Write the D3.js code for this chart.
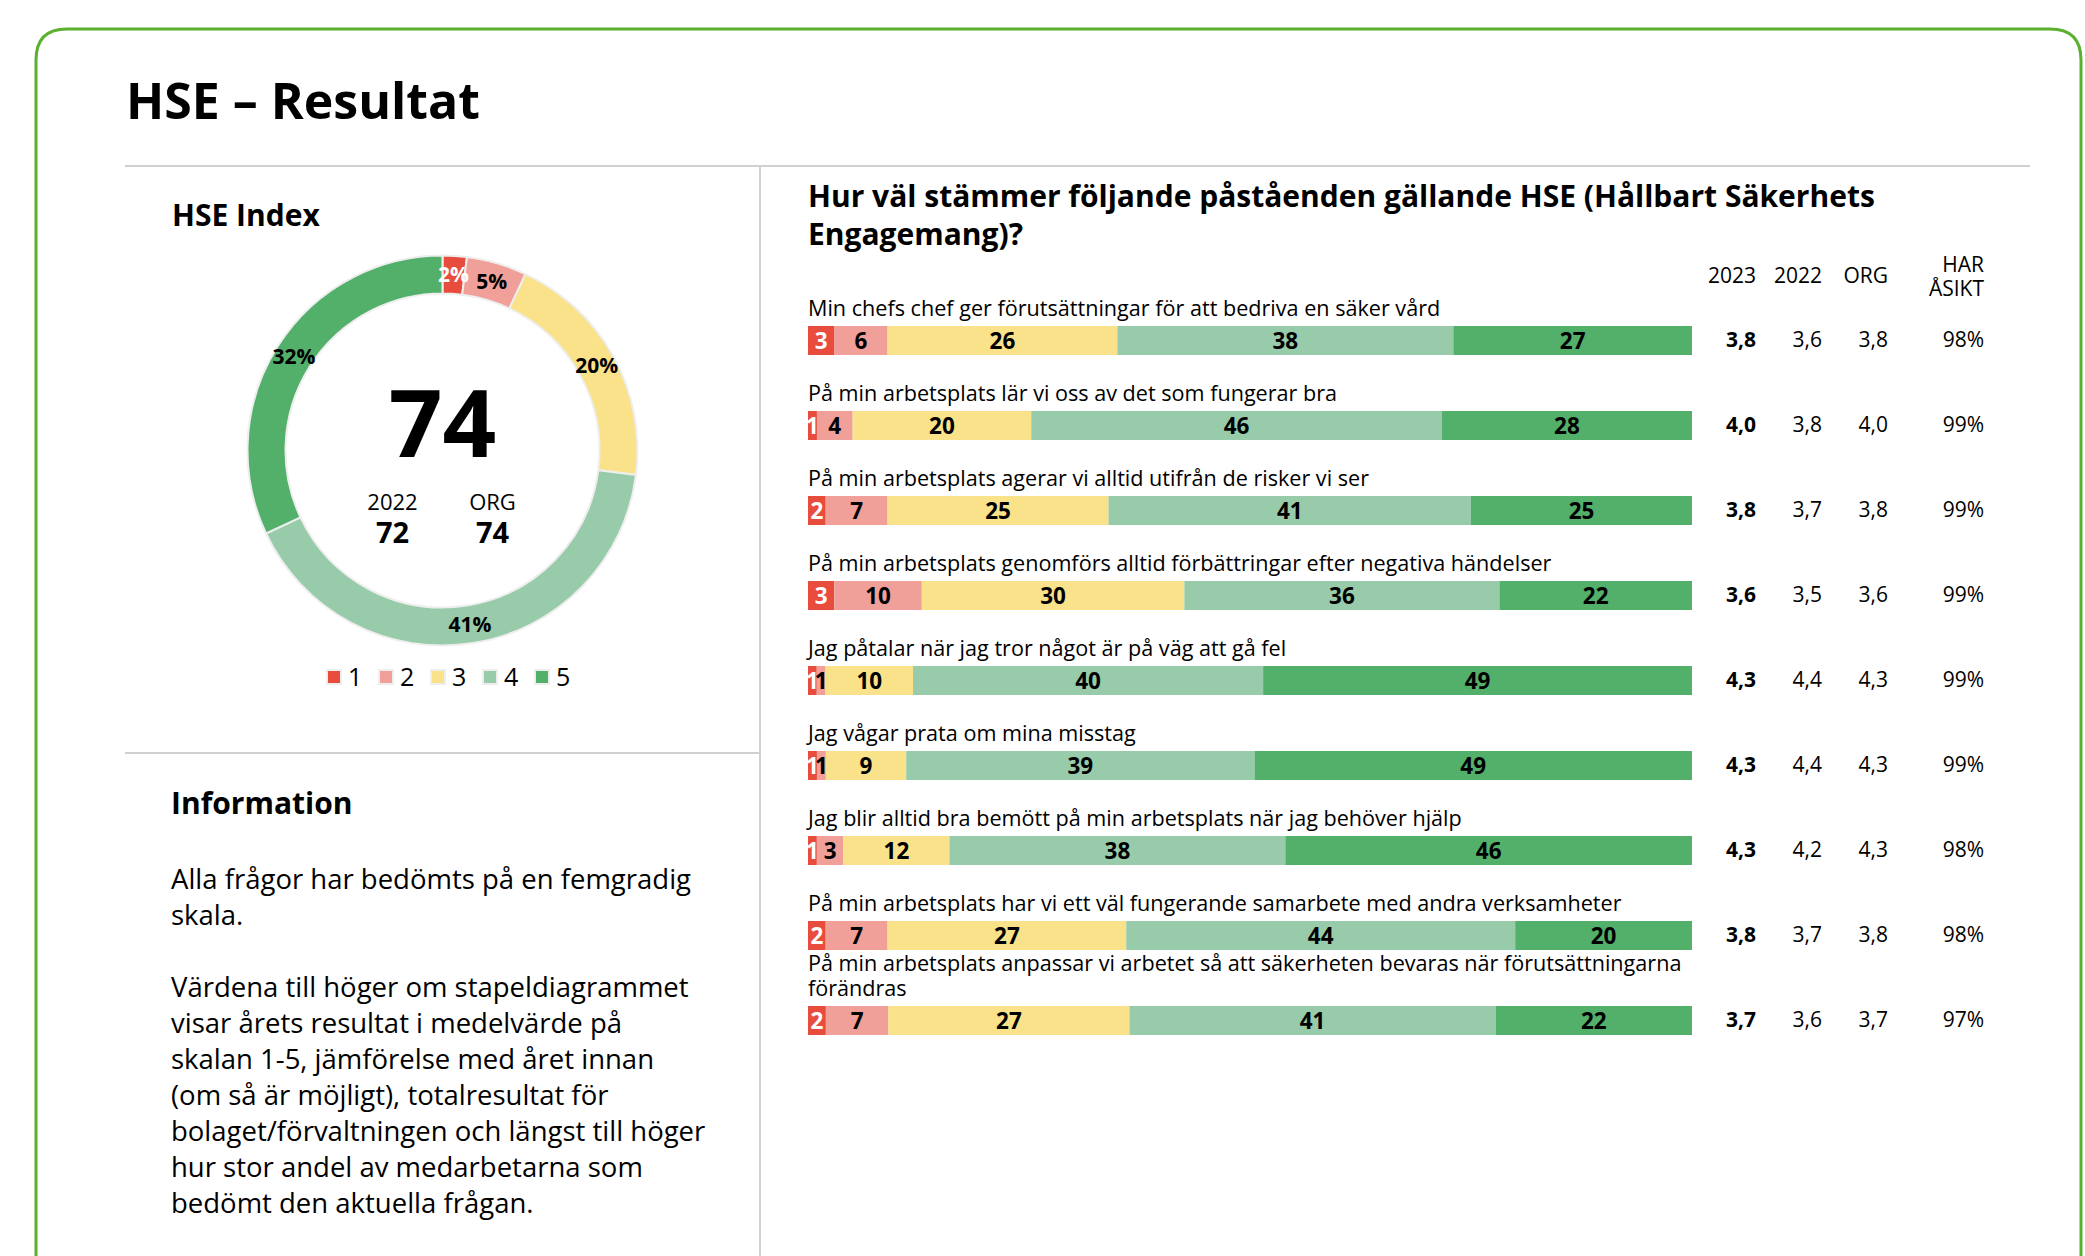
<!DOCTYPE html>
<html>
<head>
<meta charset="utf-8">
<script src="https://cdn.jsdelivr.net/npm/d3@7"></script>
<style>
  body { margin: 0; background: #fff; }
  svg text { font-family: "Open Sans", sans-serif; fill: #000; }
</style>
</head>
<body>
<div id="svgcontainer"></div>
<script>
// ---------- data ----------
const donut_labels = ['1', '2', '3', '4', '5']
const donut_values = [2, 5, 20, 41, 32]   // % per answer
const index_now = 74, index_prev = 72, index_org = 74

const questions = [
    'Min chefs chef ger förutsättningar för att bedriva en säker vård',
    'På min arbetsplats lär vi oss av det som fungerar bra',
    'På min arbetsplats agerar vi alltid utifrån de risker vi ser',
    'På min arbetsplats genomförs alltid förbättringar efter negativa händelser',
    'Jag påtalar när jag tror något är på väg att gå fel',
    'Jag vågar prata om mina misstag',
    'Jag blir alltid bra bemött på min arbetsplats när jag behöver hjälp',
    'På min arbetsplats har vi ett väl fungerande samarbete med andra verksamheter',
    'På min arbetsplats anpassar vi arbetet så att säkerheten bevaras när förutsättningarna förändras'
]
const ans1 = [3, 1, 2, 3, 1, 1, 1, 2, 2]
const ans2 = [6, 4, 7, 10, 1, 1, 3, 7, 7]
const ans3 = [26, 20, 25, 30, 10, 9, 12, 27, 27]
const ans4 = [38, 46, 41, 36, 40, 39, 38, 44, 41]
const ans5 = [27, 28, 25, 22, 49, 49, 46, 20, 22]

const mean_2023 = [3.8, 4.0, 3.8, 3.6, 4.3, 4.3, 4.3, 3.8, 3.7]
const mean_2022 = [3.6, 3.8, 3.7, 3.5, 4.4, 4.4, 4.2, 3.7, 3.6]
const mean_org  = [3.8, 4.0, 3.8, 3.6, 4.3, 4.3, 4.3, 3.8, 3.7]
const har_asikt = [98, 99, 99, 99, 99, 99, 98, 98, 97]

const col_headers = ['2023', '2022', 'ORG']

const info_lines = [
    'Alla frågor har bedömts på en femgradig',
    'skala.',
    '',
    'Värdena till höger om stapeldiagrammet',
    'visar årets resultat i medelvärde på',
    'skalan 1-5, jämförelse med året innan',
    '(om så är möjligt), totalresultat för',
    'bolaget/förvaltningen och längst till höger',
    'hur stor andel av medarbetarna som',
    'bedömt den aktuella frågan.'
]

const colors = ['#e84c3d', '#f0a098', '#fae28a', '#98cba9', '#52b06b']

// ---------- svg ----------
const svg_width = 2085, svg_height = 1256

const svg = d3.select('#svgcontainer')
    .append('svg')
    .attr('width', svg_width)
    .attr('height', svg_height)

const sv = d3.formatLocale({ decimal: ',', thousands: ' ', grouping: [3], currency: ['', ''] })
const fmt1 = sv.format('.1f')

// card frame (open at the bottom)
const r = 31
svg.append('path')
    .attr('d', `M36,${svg_height + 10} L36,${29 + r} Q36,29 ${36 + r},29 L${2081 - r},29 Q2081,29 2081,${29 + r} L2081,${svg_height + 10}`)
    .attr('fill', 'none')
    .attr('stroke', '#5cb030')
    .attr('stroke-width', 3)

svg.append('text')
    .attr('x', 126).attr('y', 119)
    .attr('font-size', 50).attr('font-weight', 700)
    .text('HSE – Resultat')

// dividers
svg.append('line').attr('x1', 125).attr('x2', 2030).attr('y1', 166).attr('y2', 166)
    .attr('stroke', '#d0d0d0').attr('stroke-width', 2)
svg.append('line').attr('x1', 760).attr('x2', 760).attr('y1', 166).attr('y2', svg_height)
    .attr('stroke', '#d0d0d0').attr('stroke-width', 2)
svg.append('line').attr('x1', 125).attr('x2', 760).attr('y1', 753).attr('y2', 753)
    .attr('stroke', '#d0d0d0').attr('stroke-width', 2)

/**------------------------------------------------------------------------
 *                           HSE Index donut
 *------------------------------------------------------------------------**/
svg.append('text')
    .attr('x', 172).attr('y', 226)
    .attr('font-size', 30).attr('font-weight', 700)
    .text('HSE Index')

const cx = 442.5, cy = 450.5
const pie = d3.pie().sort(null).value(d => d)
const arc = d3.arc().innerRadius(157).outerRadius(195)
const label_arc = d3.arc().innerRadius(176).outerRadius(176)

const dg = svg.append('g').attr('transform', `translate(${cx},${cy})`)

dg.selectAll('path')
    .data(pie(donut_values))
    .join('path')
    .attr('d', arc)
    .attr('fill', (d, i) => colors[i])
    .attr('stroke', '#eeeeee')
    .attr('stroke-width', 2)

dg.selectAll('text.pct')
    .data(pie(donut_values))
    .join('text')
    .attr('class', 'pct')
    .attr('transform', d => `translate(${label_arc.centroid(d)})`)
    .attr('text-anchor', 'middle')
    .attr('dy', '0.35em')
    .attr('font-size', 21).attr('font-weight', 700)
    .style('fill', (d, i) => i === 0 ? '#fff' : '#000')
    .text(d => d.data + '%')

dg.append('text')
    .attr('y', 457 - cy).attr('text-anchor', 'middle')
    .attr('font-size', 94).attr('font-weight', 700)
    .text(index_now)

const sub = [['2022', index_prev, -50], ['ORG', index_org, 50]]
sub.forEach(s => {
    dg.append('text').attr('x', s[2]).attr('y', 510 - cy).attr('text-anchor', 'middle')
        .attr('font-size', 22).text(s[0])
    dg.append('text').attr('x', s[2]).attr('y', 543 - cy).attr('text-anchor', 'middle')
        .attr('font-size', 29).attr('font-weight', 700).text(s[1])
})

// legend
const lx = d3.scalePoint().domain(donut_labels).range([327, 535])
const lg = svg.append('g').selectAll('g')
    .data(donut_labels)
    .join('g')
    .attr('transform', d => `translate(${lx(d)},670)`)
lg.append('rect')
    .attr('width', 14).attr('height', 14)
    .attr('fill', (d, i) => colors[i])
    .attr('stroke', '#eeeeee').attr('stroke-width', 2)
lg.append('text')
    .attr('x', 21).attr('y', 7).attr('dy', '0.36em')
    .attr('font-size', 25)
    .text(d => d)

/**------------------------------------------------------------------------
 *                           Information
 *------------------------------------------------------------------------**/
svg.append('text')
    .attr('x', 171).attr('y', 814)
    .attr('font-size', 30).attr('font-weight', 700)
    .text('Information')

svg.append('g').selectAll('text')
    .data(info_lines)
    .join('text')
    .attr('x', 171)
    .attr('y', (d, i) => 889 + i * 36)
    .attr('font-size', 27.5)
    .text(d => d)

/**------------------------------------------------------------------------
 *                           Stacked bars
 *------------------------------------------------------------------------**/
svg.append('text')
    .attr('font-size', 30).attr('font-weight', 700)
    .selectAll('tspan')
    .data(['Hur väl stämmer följande påståenden gällande HSE (Hållbart Säkerhets', 'Engagemang)?'])
    .join('tspan')
    .attr('x', 808)
    .attr('y', (d, i) => 207 + i * 38)
    .text(d => d)

const bar_left = 808, bar_right = 1692, bar_h = 29
const label_size = 21.6
const yScale = d3.scaleLinear().domain([0, questions.length - 1]).range([326, 1006])

// column positions (right aligned)
const col_x = [1756, 1822, 1888]
col_headers.forEach((h, i) => {
    svg.append('text').attr('x', col_x[i]).attr('y', 283)
        .attr('text-anchor', 'end').attr('font-size', 21).text(h)
})
svg.append('text').attr('x', 1984).attr('y', 272).attr('text-anchor', 'end').attr('font-size', 21).text('HAR')
svg.append('text').attr('x', 1984).attr('y', 296).attr('text-anchor', 'end').attr('font-size', 21).text('ÅSIKT')

const stack_keys = [ans1, ans2, ans3, ans4, ans5]

questions.forEach((q, i) => {
    const vals = stack_keys.map(a => a[i])
    const total = d3.sum(vals)
    const xScale = d3.scaleLinear().domain([0, total]).range([bar_left, bar_right])
    const y0 = yScale(i)
    const g = svg.append('g')

    // label, wrapped to the bar width
    const lbl = g.append('text').attr('font-size', label_size)
    const words = q.split(' ')
    let lines = [], cur = ''
    const probe = svg.append('text').attr('font-size', label_size)
    words.forEach(w => {
        const t = cur ? cur + ' ' + w : w
        probe.text(t)
        if (probe.node().getComputedTextLength() > bar_right - bar_left && cur) {
            lines.push(cur); cur = w
        } else cur = t
    })
    lines.push(cur)
    probe.remove()
    lbl.selectAll('tspan')
        .data(lines)
        .join('tspan')
        .attr('x', bar_left)
        .attr('y', (d, k) => y0 - 10 - (lines.length - 1 - k) * 25)
        .text(d => d)

    let acc = 0
    vals.forEach((v, k) => {
        const x0 = xScale(acc), x1 = xScale(acc + v)
        acc += v
        g.append('rect')
            .attr('x', x0).attr('y', y0)
            .attr('width', x1 - x0).attr('height', bar_h)
            .attr('fill', colors[k])
        g.append('text')
            .attr('x', (x0 + x1) / 2).attr('y', y0 + bar_h / 2)
            .attr('dy', '0.36em')
            .attr('text-anchor', 'middle')
            .attr('font-size', 22.5).attr('font-weight', 700)
            .style('fill', k === 0 ? '#fff' : '#000')
            .text(v)
    })

    const yt = y0 + 21
    g.append('text').attr('x', col_x[0]).attr('y', yt).attr('text-anchor', 'end')
        .attr('font-size', 21).attr('font-weight', 700).text(fmt1(mean_2023[i]))
    g.append('text').attr('x', col_x[1]).attr('y', yt).attr('text-anchor', 'end')
        .attr('font-size', 21).text(fmt1(mean_2022[i]))
    g.append('text').attr('x', col_x[2]).attr('y', yt).attr('text-anchor', 'end')
        .attr('font-size', 21).text(fmt1(mean_org[i]))
    g.append('text').attr('x', 1984).attr('y', yt).attr('text-anchor', 'end')
        .attr('font-size', 21).text(har_asikt[i] + '%')
})
</script>
</body>
</html>
